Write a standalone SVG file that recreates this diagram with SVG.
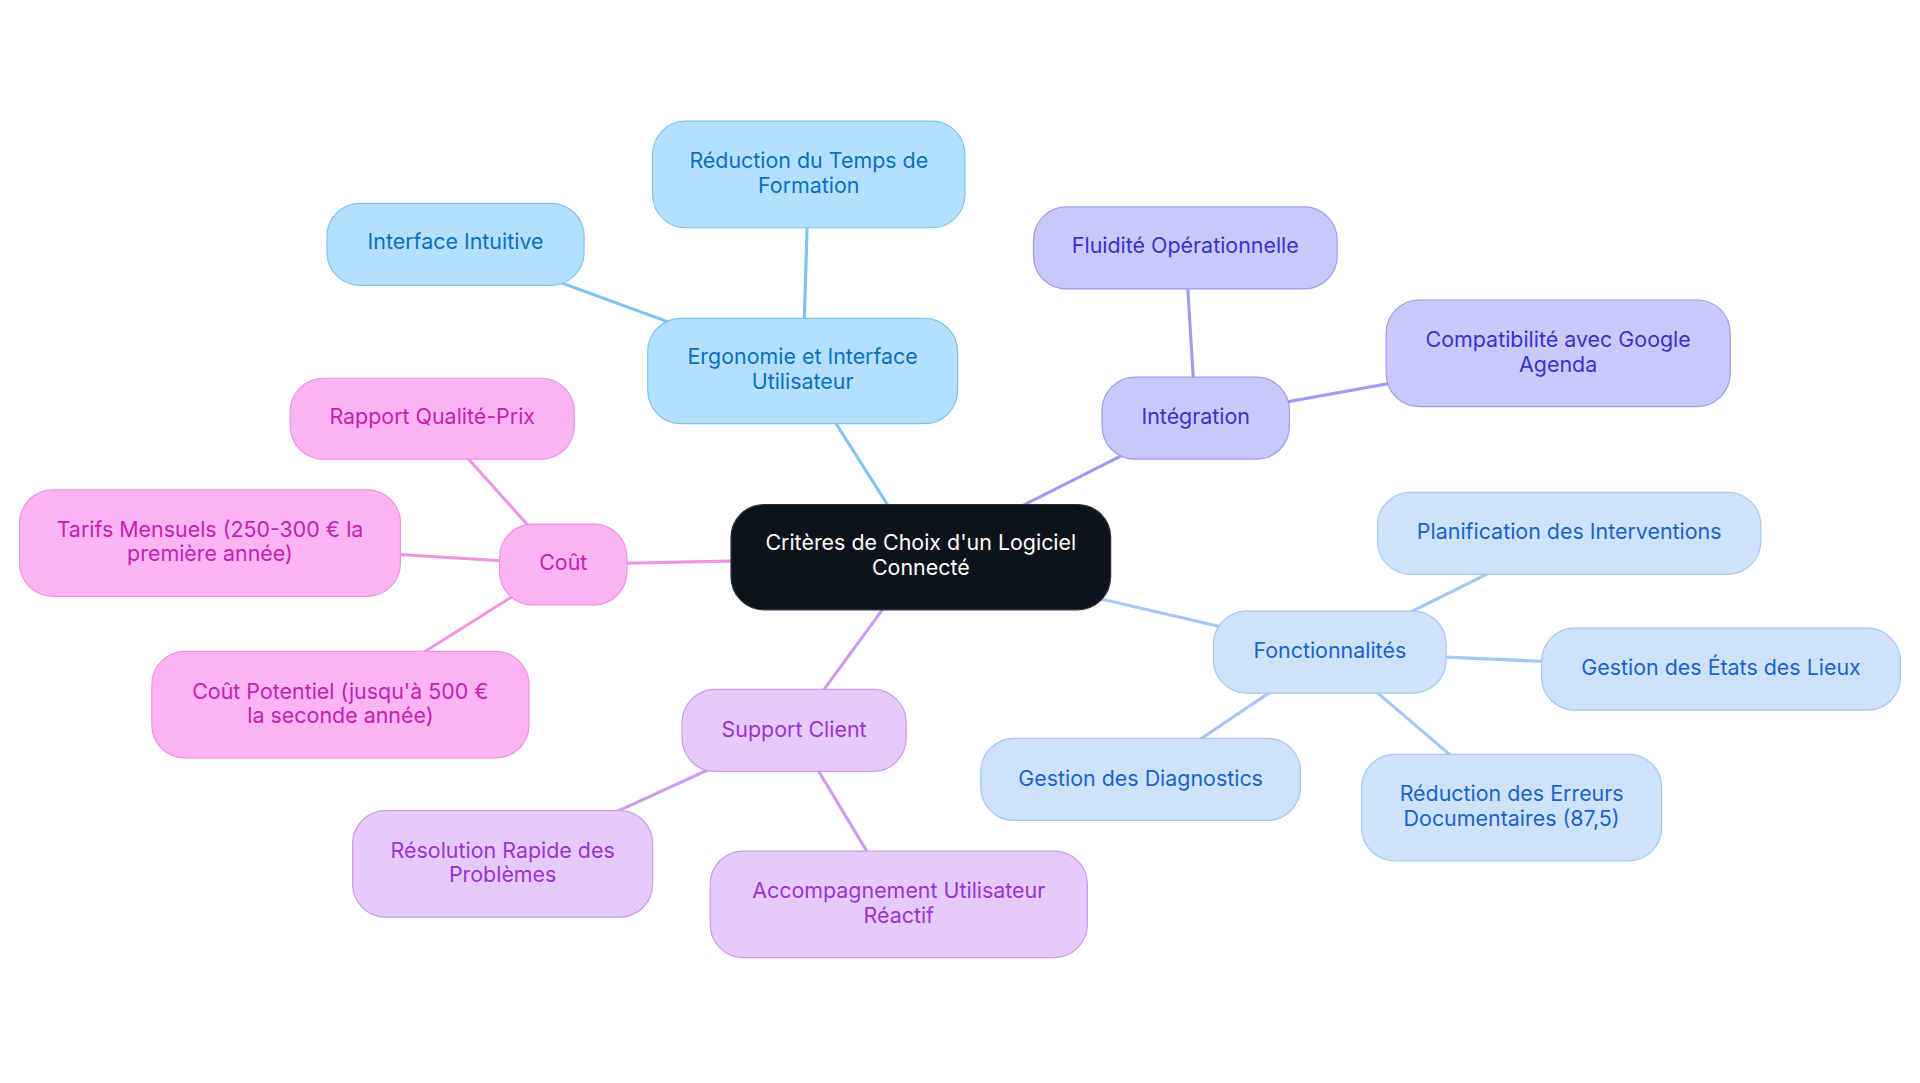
<svg xmlns="http://www.w3.org/2000/svg" width="1920" height="1083" viewBox="0 0 1920 1083">
<style>
text{font-family:Inter,"Liberation Sans",sans-serif;font-size:17.5px;text-anchor:middle;dominant-baseline:central}
.e{stroke-width:2.5;fill:none;stroke-linecap:round}
.root rect{fill:#0d131c;stroke:#2b3038;stroke-width:1}
.root text{fill:#ffffff}
.b rect{fill:#b4e0fd;stroke:#7dc4f3;stroke-width:1}
.b text{fill:#0b6fc3}
.v rect{fill:#c9c9fc;stroke:#9d9cf1;stroke-width:1}
.v text{fill:#3a32cf}
.f rect{fill:#cee3fb;stroke:#a3c8f3;stroke-width:1}
.f text{fill:#1b62cf}
.s rect{fill:#e6cafc;stroke:#cc9af0;stroke-width:1}
.s text{fill:#9a33d6}
.p rect{fill:#fdb4f3;stroke:#f094e2;stroke-width:1}
.p text{fill:#c41fb1}
.eb{stroke:#7dc4f3}.ev{stroke:#9d9cf1}.ef{stroke:#a3c8f3}.es{stroke:#cc9af0}.ep{stroke:#f094e2}
</style>
<rect width="1920" height="1083" fill="#ffffff"/>
<g transform="scale(1.2245)">
<g id="connectors">
<line class="e eb" x1="752" y1="455" x2="655.5" y2="303"/>
<line class="e eb" x1="655.5" y1="303" x2="660.5" y2="142.5"/>
<line class="e eb" x1="655.5" y1="303" x2="372" y2="199.5"/>
<line class="e ev" x1="752" y1="455" x2="976.5" y2="341.5"/>
<line class="e ev" x1="976.5" y1="341.5" x2="968" y2="202.5"/>
<line class="e ev" x1="976.5" y1="341.5" x2="1272.5" y2="288.5"/>
<line class="e ef" x1="752" y1="455" x2="1086" y2="532.5"/>
<line class="e ef" x1="1086" y1="532.5" x2="1281.5" y2="435.5"/>
<line class="e ef" x1="1086" y1="532.5" x2="1405.5" y2="546.5"/>
<line class="e ef" x1="1086" y1="532.5" x2="931.5" y2="636.5"/>
<line class="e ef" x1="1086" y1="532.5" x2="1234.5" y2="659.5"/>
<line class="e es" x1="752" y1="455" x2="648.5" y2="596.5"/>
<line class="e es" x1="648.5" y1="596.5" x2="410.5" y2="705.5"/>
<line class="e es" x1="648.5" y1="596.5" x2="734" y2="738.5"/>
<line class="e ep" x1="752" y1="455" x2="460" y2="461"/>
<line class="e ep" x1="460" y1="461" x2="353" y2="342"/>
<line class="e ep" x1="460" y1="461" x2="171.5" y2="443.5"/>
<line class="e ep" x1="460" y1="461" x2="278" y2="575.5"/>
</g>
<g id="root" class="root"><rect x="597" y="412" width="310" height="86" rx="27"/><text x="752" y="443">Critères de Choix d'un Logiciel</text><text x="752" y="463">Connecté</text></g>
<g id="ergonomie" class="b"><rect x="529" y="260" width="253" height="86" rx="27"/><text x="655.5" y="291">Ergonomie et Interface</text><text x="655.5" y="311">Utilisateur</text></g>
<g id="reduction-temps" class="b"><rect x="533" y="99" width="255" height="87" rx="27"/><text x="660.5" y="131">Réduction du Temps de</text><text x="660.5" y="151">Formation</text></g>
<g id="interface-intuitive" class="b"><rect x="267" y="166" width="210" height="67" rx="27"/><text x="372" y="197">Interface Intuitive</text></g>
<g id="integration" class="v"><rect x="900" y="308" width="153" height="67" rx="27"/><text x="976.5" y="340">Intégration</text></g>
<g id="fluidite" class="v"><rect x="844" y="169" width="248" height="67" rx="27"/><text x="968" y="200">Fluidité Opérationnelle</text></g>
<g id="compatibilite" class="v"><rect x="1132" y="245" width="281" height="87" rx="27"/><text x="1272.5" y="277">Compatibilité avec Google</text><text x="1272.5" y="297">Agenda</text></g>
<g id="fonctionnalites" class="f"><rect x="991" y="499" width="190" height="67" rx="27"/><text x="1086" y="531">Fonctionnalités</text></g>
<g id="planification" class="f"><rect x="1125" y="402" width="313" height="67" rx="27"/><text x="1281.5" y="434">Planification des Interventions</text></g>
<g id="etats-des-lieux" class="f"><rect x="1259" y="513" width="293" height="67" rx="27"/><text x="1405.5" y="545">Gestion des États des Lieux</text></g>
<g id="diagnostics" class="f"><rect x="801" y="603" width="261" height="67" rx="27"/><text x="931.5" y="635">Gestion des Diagnostics</text></g>
<g id="erreurs" class="f"><rect x="1112" y="616" width="245" height="87" rx="27"/><text x="1234.5" y="648">Réduction des Erreurs</text><text x="1234.5" y="668">Documentaires (87,5)</text></g>
<g id="support" class="s"><rect x="557" y="563" width="183" height="67" rx="27"/><text x="648.5" y="595">Support Client</text></g>
<g id="resolution" class="s"><rect x="288" y="662" width="245" height="87" rx="27"/><text x="410.5" y="694">Résolution Rapide des</text><text x="410.5" y="714">Problèmes</text></g>
<g id="accompagnement" class="s"><rect x="580" y="695" width="308" height="87" rx="27"/><text x="734" y="727">Accompagnement Utilisateur</text><text x="734" y="747">Réactif</text></g>
<g id="cout" class="p"><rect x="408" y="428" width="104" height="66" rx="27"/><text x="460" y="459">Coût</text></g>
<g id="rapport" class="p"><rect x="237" y="309" width="232" height="66" rx="27"/><text x="353" y="340">Rapport Qualité-Prix</text></g>
<g id="tarifs" class="p"><rect x="16" y="400" width="311" height="87" rx="27"/><text x="171.5" y="432">Tarifs Mensuels (250-300 € la</text><text x="171.5" y="452">première année)</text></g>
<g id="cout-potentiel" class="p"><rect x="124" y="532" width="308" height="87" rx="27"/><text x="278" y="564">Coût Potentiel (jusqu'à 500 €</text><text x="278" y="584">la seconde année)</text></g>
</g>
</svg>
